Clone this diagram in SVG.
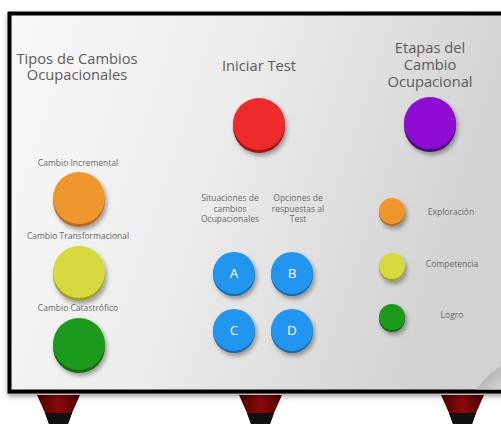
<svg xmlns="http://www.w3.org/2000/svg" width="501" height="424" viewBox="0 0 501 424">
<defs>
<style>
.t{font-family:"Open Sans","Noto Sans","Liberation Sans",sans-serif;fill:#5b5b5b;text-anchor:middle}
.h{font-size:14.7px}
.s{font-size:8.5px;fill:#6a6a6a}
.l{font-size:13.5px;fill:#ffffff}
</style>
<linearGradient id="page" x1="0" y1="0" x2="1" y2="0.25">
<stop offset="0" stop-color="#f9f9f9"/>
<stop offset="0.45" stop-color="#ededed"/>
<stop offset="1" stop-color="#d2d2d2"/>
</linearGradient>
<linearGradient id="curl" x1="0" y1="0" x2="1" y2="1">
<stop offset="0" stop-color="#9c9c9c"/>
<stop offset="1" stop-color="#d6d6d6"/>
</linearGradient>
<linearGradient id="leg" x1="0" y1="0" x2="1" y2="0">
<stop offset="0" stop-color="#4a0000"/>
<stop offset="0.5" stop-color="#8c0a0a"/>
<stop offset="1" stop-color="#4a0000"/>
</linearGradient>
<filter id="sh" x="-30%" y="-30%" width="170%" height="170%">
<feDropShadow dx="2" dy="3" stdDeviation="2" flood-color="#000" flood-opacity="0.35"/>
</filter>
<filter id="fsh" x="-5%" y="-5%" width="110%" height="115%">
<feDropShadow dx="0" dy="3" stdDeviation="2.5" flood-color="#000" flood-opacity="0.35"/>
</filter>
</defs>
<rect x="0" y="0" width="501" height="424" fill="#ffffff"/>
<g id="legs">
<g id="leg1"><path d="M37,395 L80,395 L72,413 L68,424 L49,424 L45,413 Z" fill="url(#leg)"/><path d="M45,413 L72,413 L68,424 L49,424 Z" fill="#111"/></g>
<g id="leg2"><path d="M239,395 L282,395 L274,413 L270,424 L251,424 L247,413 Z" fill="url(#leg)"/><path d="M247,413 L274,413 L270,424 L251,424 Z" fill="#111"/></g>
<g id="leg3"><path d="M441,395 L484,395 L476,413 L472,424 L453,424 L449,413 Z" fill="url(#leg)"/><path d="M449,413 L476,413 L472,424 L453,424 Z" fill="#111"/></g>
</g>
<g id="frame" filter="url(#fsh)">
<rect x="9.5" y="13.5" width="500" height="378" fill="url(#page)" stroke="#000" stroke-width="4"/>
</g>
<path d="M476,389.5 Q488,374 501,366 L501,389.5 Z" fill="url(#curl)"/>
<g id="connectors"/>
<g id="title-tipos"><text class="t h" x="77" y="64">Tipos de Cambios</text><text class="t h" x="77" y="80">Ocupacionales</text></g>
<g id="title-iniciar"><text class="t h" x="259" y="71">Iniciar Test</text></g>
<g id="title-etapas"><text class="t h" x="430" y="53">Etapas del</text><text class="t h" x="430" y="70">Cambio</text><text class="t h" x="430" y="87">Ocupacional</text></g>
<g id="btn-iniciar" filter="url(#sh)"><circle cx="259" cy="127" r="26" fill="#a41212"/><circle cx="259" cy="124" r="26" fill="#ee2a2a"/></g>
<g id="btn-etapas" filter="url(#sh)"><circle cx="430" cy="126" r="26" fill="#4c0778"/><circle cx="430" cy="123" r="26" fill="#8f0bd3"/></g>
<g id="incremental"><text class="t s" x="78" y="166">Cambio Incremental</text><g filter="url(#sh)"><circle cx="79" cy="201" r="26" fill="#b86a1c"/><circle cx="79" cy="198" r="26" fill="#f0962f"/></g></g>
<g id="transformacional"><text class="t s" x="78" y="239">Cambio Transformacional</text><g filter="url(#sh)"><circle cx="79" cy="275" r="26" fill="#9ea020"/><circle cx="79" cy="272" r="26" fill="#d7d83e"/></g></g>
<g id="catastrofico"><text class="t s" x="78" y="311">Cambio Catastrófico</text><g filter="url(#sh)"><circle cx="79" cy="347" r="26" fill="#136a10"/><circle cx="79" cy="344" r="26" fill="#1f9a1b"/></g></g>
<g id="situaciones"><text class="t s" x="230" y="201">Situaciones de</text><text class="t s" x="230" y="212">cambios</text><text class="t s" x="230" y="222">Ocupacionales</text></g>
<g id="opciones"><text class="t s" x="298" y="201">Opciones de</text><text class="t s" x="298" y="212">respuestas al</text><text class="t s" x="298" y="222">Test</text></g>
<g id="btn-a"><g filter="url(#sh)"><circle cx="234" cy="275" r="21" fill="#1467ad"/><circle cx="234" cy="273" r="21" fill="#2196ee"/></g><text class="t l" x="234" y="278">A</text></g>
<g id="btn-b"><g filter="url(#sh)"><circle cx="292" cy="275" r="21" fill="#1467ad"/><circle cx="292" cy="273" r="21" fill="#2196ee"/></g><text class="t l" x="292" y="278">B</text></g>
<g id="btn-c"><g filter="url(#sh)"><circle cx="234" cy="332" r="21" fill="#1467ad"/><circle cx="234" cy="330" r="21" fill="#2196ee"/></g><text class="t l" x="234" y="335">C</text></g>
<g id="btn-d"><g filter="url(#sh)"><circle cx="292" cy="332" r="21" fill="#1467ad"/><circle cx="292" cy="330" r="21" fill="#2196ee"/></g><text class="t l" x="292" y="335">D</text></g>
<g id="exploracion"><g filter="url(#sh)"><circle cx="392" cy="213" r="13" fill="#b86a1c"/><circle cx="392" cy="211" r="13" fill="#f0962f"/></g><text class="t s" x="451" y="215">Exploración</text></g>
<g id="competencia"><g filter="url(#sh)"><circle cx="392" cy="268" r="13" fill="#9ea020"/><circle cx="392" cy="266" r="13" fill="#d7d83e"/></g><text class="t s" x="452" y="267">Competencia</text></g>
<g id="logro"><g filter="url(#sh)"><circle cx="392" cy="319" r="13" fill="#136a10"/><circle cx="392" cy="317" r="13" fill="#1f9a1b"/></g><text class="t s" x="452" y="318">Logro</text></g>
</svg>
